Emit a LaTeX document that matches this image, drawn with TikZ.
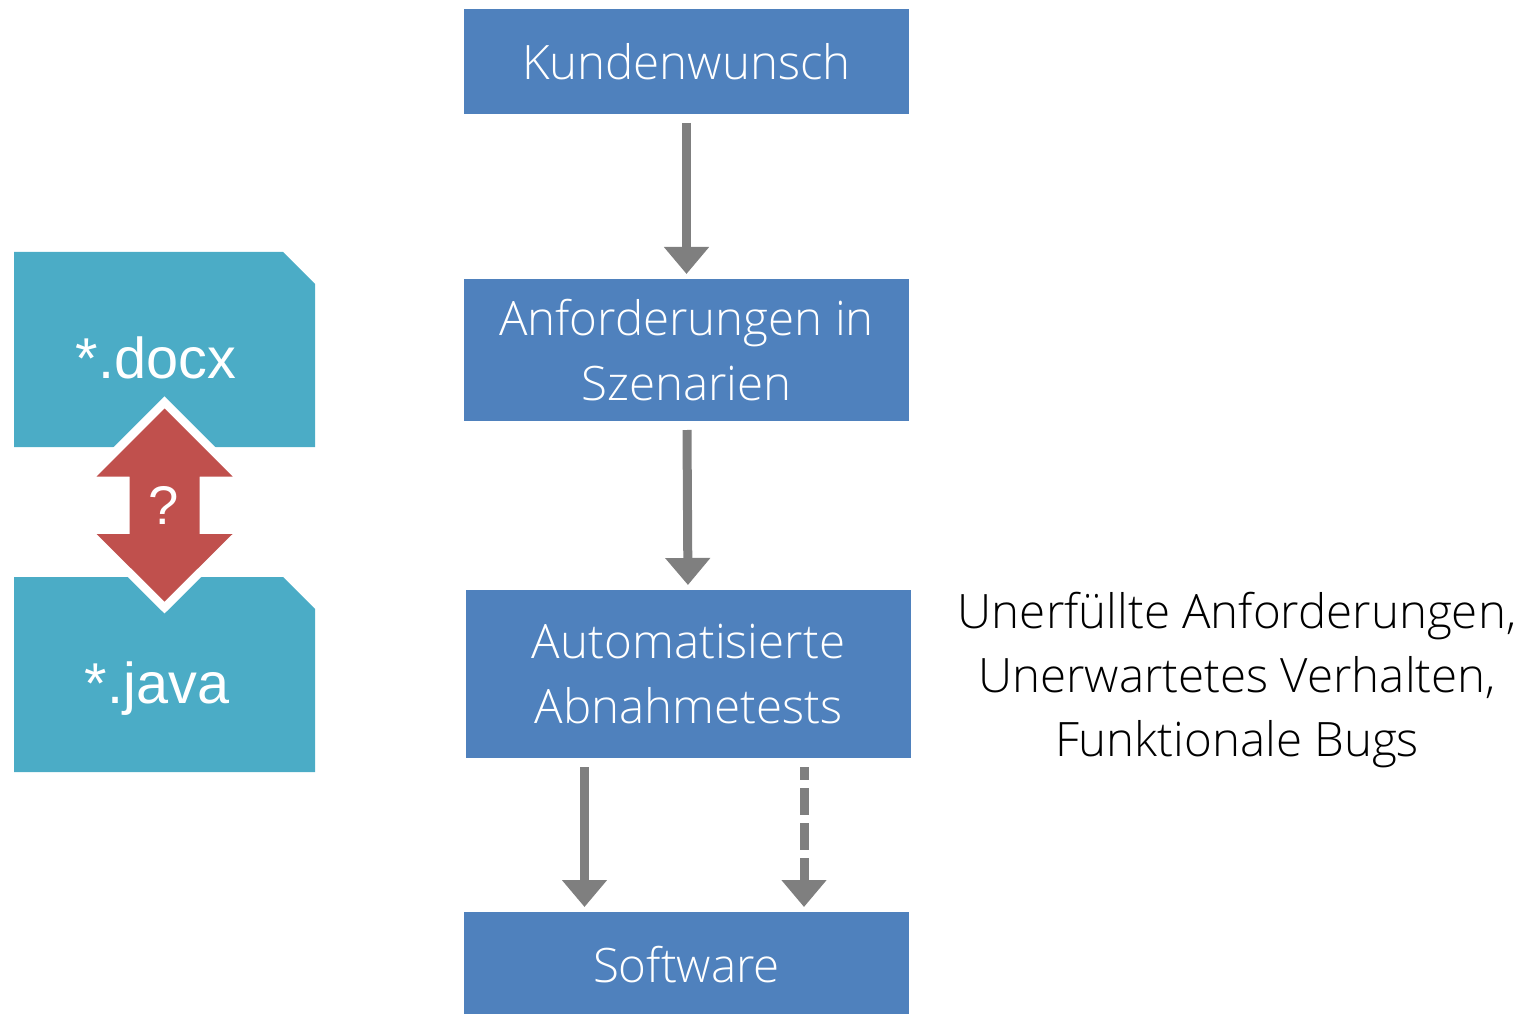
\documentclass[tikz,border=0pt]{standalone}
\usepackage{fontspec}
\setmainfont{Open Sans Light}
\newfontfamily\arialfont{Liberation Sans}
\usetikzlibrary{arrows.meta}
\definecolor{boxblue}{HTML}{4F81BD}
\definecolor{fileteal}{HTML}{4BACC6}
\definecolor{arrowred}{HTML}{C0504D}
\definecolor{arrowgray}{HTML}{7F7F7F}
\tikzset{
    stepbox/.style={fill=boxblue, text=white, minimum width=8.9cm, inner sep=0pt, outer sep=0pt, align=center, font=\fontsize{27}{36.6}\selectfont},
    filelabel/.style={text=white, anchor=base, inner sep=0pt, font=\arialfont\fontsize{32.8}{36}\selectfont},
    flow/.style={color=arrowgray, line width=0.18cm, -{Triangle[width=0.87cm,length=0.54cm]}, shorten <=0.18cm, shorten >=0.1cm},
}

\begin{document}
\begin{tikzpicture}
    \useasboundingbox (0,0) rectangle (30.52,20.28);
    \node (wunsch) at (13.73,19.05) [stepbox, minimum height=2.1cm] {Kundenwunsch};
    \node (szenarien) at (13.73,13.28) [stepbox, minimum height=2.84cm] {Anforderungen in\\Szenarien};
    \node (tests) at (13.77,6.8) [stepbox, minimum height=3.36cm] {Automatisierte\\Abnahmetests};
    \node (software) at (13.73,1.02) [stepbox, minimum height=2.04cm, text height=0.8cm] {Software};
    \node (bugs) at (24.74,6.68) [align=center, inner sep=0pt, font=\fontsize{27}{36.6}\selectfont] {Unerfüllte Anforderungen,\\Unerwartetes Verhalten,\\Funktionale Bugs};

    \draw[flow] (wunsch) -- (szenarien);
    \draw[flow] (szenarien) -- (tests);
    \draw[flow] ([xshift=-2.08cm]tests.south) -- ([xshift=-2.04cm]software.north);
    \draw[flow, dash pattern=on 0.54cm off 0.16cm, dash phase=0.28cm] ([xshift=2.31cm]tests.south) -- ([xshift=2.35cm]software.north);

    \fill[fileteal] (0.28,15.24) -- (5.66,15.24) -- (6.3,14.6) -- (6.3,11.34) -- (0.28,11.34) -- cycle;
    \fill[fileteal] (0.28,8.74) -- (5.66,8.74) -- (6.3,8.1) -- (6.3,4.84) -- (0.28,4.84) -- cycle;
    \node (docx) at (3.12,12.72) [filelabel] {*.docx};
    \node (java) at (3.14,6.22) [filelabel] {*.java};

    \fill[arrowred, preaction={draw=white, line width=0.34cm}] (3.29,12.11) -- (4.65,10.75) -- (3.99,10.75) -- (3.99,9.6) -- (4.65,9.6) -- (3.29,8.25) -- (1.93,9.6) -- (2.59,9.6) -- (2.59,10.75) -- (1.93,10.75) -- cycle;
    \node (frage) at (3.27,10.18) [text=white, inner sep=0pt, font=\arialfont\fontsize{31}{34}\selectfont] {?};
\end{tikzpicture}
\end{document}
